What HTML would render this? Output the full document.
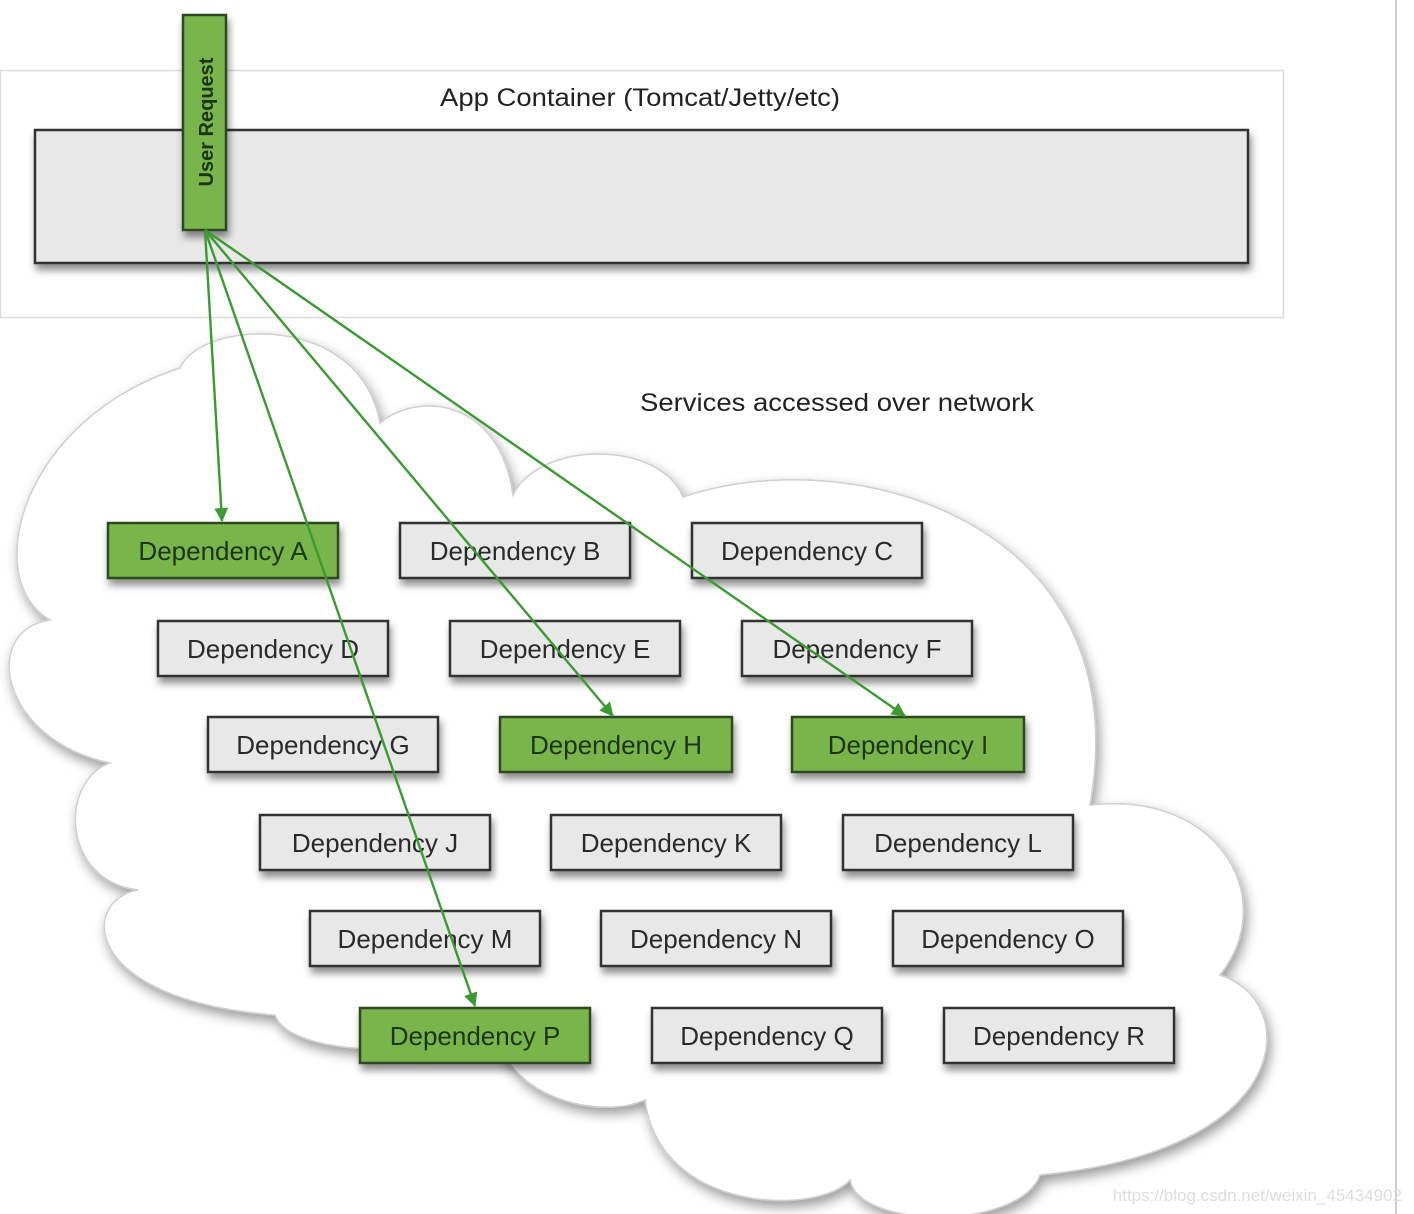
<!DOCTYPE html>
<html><head><meta charset="utf-8"><style>
html,body{margin:0;padding:0;background:#fff;}
svg{display:block;}
text{font-family:"Liberation Sans",sans-serif;}
</style></head><body>
<svg width="1414" height="1214" viewBox="0 0 1414 1214" xmlns="http://www.w3.org/2000/svg">
<defs>
<filter id="cs" x="-10%" y="-10%" width="120%" height="120%">
<feDropShadow dx="3" dy="6" stdDeviation="6" flood-color="#000" flood-opacity="0.4"/>
</filter>
<filter id="bs" x="-10%" y="-20%" width="130%" height="160%">
<feDropShadow dx="2" dy="6" stdDeviation="4" flood-color="#000" flood-opacity="0.45"/>
</filter>
<marker id="ah" markerWidth="14" markerHeight="14" refX="13" refY="7" orient="auto" markerUnits="userSpaceOnUse" viewBox="0 0 14 14">
<path d="M0,0 L14,7 L0,14 z" fill="#3c9a32"/>
</marker>
</defs>
<line x1="1396" y1="0" x2="1396" y2="1214" stroke="#ccc" stroke-width="2"/>
<rect x="0.5" y="70.5" width="1283" height="247" fill="#fff" stroke="#dcdcdc" stroke-width="1.5"/>
<text x="640" y="106" font-size="25" text-anchor="middle" fill="#222" textLength="400" lengthAdjust="spacingAndGlyphs">App Container (Tomcat/Jetty/etc)</text>
<rect x="35" y="130" width="1213" height="133" fill="#e8e8e8" stroke="#333" stroke-width="2.5" filter="url(#bs)"/>
<path d="M180,368 C200,320 360,310 380,423 C420,390 500,400 513,495 C540,440 660,440 683,497 C850,440 1140,520 1090,805 C1220,790 1280,900 1220,975 C1300,1000 1300,1150 1040,1175 C1020,1230 860,1230 850,1180 C820,1215 660,1215 645,1100 C600,1120 500,1100 490,1015 C460,1060 290,1060 275,1015 C80,1000 80,900 138,890 C60,880 60,780 110,763 C0,740 -20,630 50,620 C-20,580 20,420 180,368 Z" fill="#fff" stroke="#cfcfcf" stroke-width="1.5" filter="url(#cs)"/>
<text x="837" y="411" font-size="25" text-anchor="middle" fill="#222" textLength="394" lengthAdjust="spacingAndGlyphs">Services accessed over network</text>
<g font-size="26" text-anchor="middle" stroke-width="2.5">
<g fill="#e8e8e8" stroke="#333" filter="url(#bs)">
<rect x="400" y="523" width="230" height="55"/><rect x="692" y="523" width="230" height="55"/>
<rect x="158" y="621" width="230" height="55"/><rect x="450" y="621" width="230" height="55"/><rect x="742" y="621" width="230" height="55"/>
<rect x="208" y="717" width="230" height="55"/>
<rect x="260" y="815" width="230" height="55"/><rect x="551" y="815" width="230" height="55"/><rect x="843" y="815" width="230" height="55"/>
<rect x="310" y="911" width="230" height="55"/><rect x="601" y="911" width="230" height="55"/><rect x="893" y="911" width="230" height="55"/>
<rect x="652" y="1008" width="230" height="55"/><rect x="944" y="1008" width="230" height="55"/>
</g>
<g fill="#7ab54b" stroke="#2e4a22" filter="url(#bs)">
<rect x="108" y="523" width="230" height="55"/>
<rect x="500" y="717" width="232" height="55"/><rect x="792" y="717" width="232" height="55"/>
<rect x="360" y="1008" width="230" height="55"/>
<rect x="183" y="15" width="43" height="215"/>
</g>
<g fill="#2a2a2a" stroke="none">
<text x="515" y="560">Dependency B</text><text x="807" y="560">Dependency C</text>
<text x="273" y="658">Dependency D</text><text x="565" y="658">Dependency E</text><text x="857" y="658">Dependency F</text>
<text x="323" y="754">Dependency G</text>
<text x="375" y="852">Dependency J</text><text x="666" y="852">Dependency K</text><text x="958" y="852">Dependency L</text>
<text x="425" y="948">Dependency M</text><text x="716" y="948">Dependency N</text><text x="1008" y="948">Dependency O</text>
<text x="767" y="1045">Dependency Q</text><text x="1059" y="1045">Dependency R</text>
</g>
<g fill="#1c3512" stroke="none">
<text x="223" y="560">Dependency A</text>
<text x="616" y="754">Dependency H</text><text x="908" y="754">Dependency I</text>
<text x="475" y="1045">Dependency P</text>
<text transform="translate(213,122) rotate(-90)" font-size="20" font-weight="bold">User Request</text>
</g>
</g>
<g stroke="#3c9a32" stroke-width="2.4" fill="none" marker-end="url(#ah)">
<line x1="205" y1="230" x2="222" y2="521"/>
<line x1="205" y1="230" x2="475" y2="1006"/>
<line x1="205" y1="230" x2="613" y2="716"/>
<line x1="205" y1="230" x2="905" y2="716"/>
</g>
<text x="1402" y="1201" font-size="17" text-anchor="end" fill="#ddd">https://blog.csdn.net/weixin_45434902</text>
</svg>
</body></html>
